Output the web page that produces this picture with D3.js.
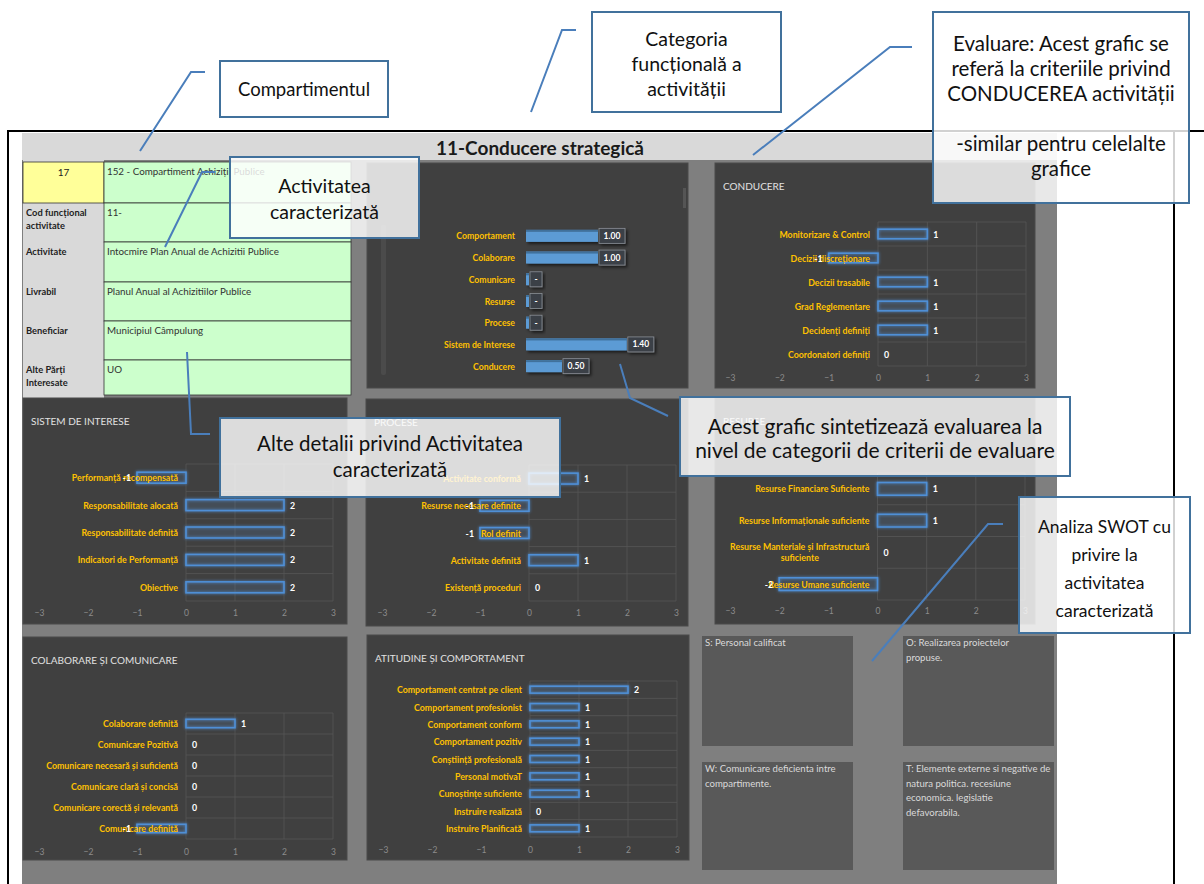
<!DOCTYPE html>
<html lang="ro">
<head>
<meta charset="UTF-8">
<title>11-Conducere strategică</title>
<script src="https://d3js.org/d3.v7.min.js"></script>
<style>
  html, body { margin: 0; padding: 0; background: #fff; }
  svg { display: block; font-family: Lato, 'Open Sans', sans-serif; }
</style>
</head>
<body>
<div id="chart"></div>
<script>
// ---- date ----
const sheetTitle = '11-Conducere strategică';
const infoLabels = ['17', 'Cod funcțional\nactivitate', 'Activitate', 'Livrabil', 'Beneficiar', 'Alte Părți\nInteresate'];
const infoValues = ['152 - Compartiment Achiziții Publice', '11-', 'Intocmire Plan Anual de Achizitii  Publice',
  'Planul Anual al Achizitiilor Publice', 'Municipiul Câmpulung', 'UO'];

const summaryCategories = ['Comportament', 'Colaborare', 'Comunicare', 'Resurse', 'Procese', 'Sistem de Interese', 'Conducere'];
const summaryValues = [1.00, 1.00, 0, 0, 0, 1.40, 0.50];

const conducereCriteria = ['Monitorizare & Control', 'Decizii discreționare', 'Decizii trasabile', 'Grad Reglementare', 'Decidenți definiți', 'Coordonatori  definiți'];
const conducereScores = [1, -1, 1, 1, 1, 0];

const sistemCriteria = ['Performanță recompensată', 'Responsabilitate alocată', 'Responsabilitate definită', 'Indicatori de Performanță', 'Obiective'];
const sistemScores = [-1, 2, 2, 2, 2];

const proceseCriteria = ['Activitate conformă', 'Resurse necesare definite', 'Rol definit', 'Activitate definită', 'Existență proceduri'];
const proceseScores = [1, -1, -1, 1, 0];

const resurseCriteria = ['Resurse Financiare Suficiente', 'Resurse Informaționale  suficiente', 'Resurse Manteriale  și Infrastructură\nsuficiente', 'Resurse Umane suficiente'];
const resurseScores = [1, 1, 0, -2];

const colaborareCriteria = ['Colaborare definită', 'Comunicare Pozitivă', 'Comunicare  necesară  și suficientă', 'Comunicare  clară  și concisă', 'Comunicare corectă  și relevantă', 'Comunicare definită'];
const colaborareScores = [1, 0, 0, 0, 0, -1];

const atitudineCriteria = ['Comportament centrat pe client', 'Comportament profesionist', 'Comportament conform', 'Comportament pozitiv',
  'Conștiință  profesională', 'Personal motivaT', 'Cunoștințe  suficiente', 'Instruire realizată', 'Instruire Planificată'];
const atitudineScores = [2, 1, 1, 1, 1, 1, 1, 0, 1];

const scoreTicks = [-3, -2, -1, 0, 1, 2, 3];

const swotTexts = ['S: Personal calificat', 'O: Realizarea proiectelor\npropuse.',
  'W: Comunicare  deficienta intre\ncompartimente.',
  'T: Elemente externe si negative de\nnatura politica. recesiune\neconomica. legislatie\ndefavorabila.'];

// ---- culori ----
const GOLD = '#ffc000', PANEL = '#404040', BLUE = '#5b9bd5', EDGE = '#41719c';

const W = 1204, H = 884;
const svg = d3.select('#chart').append('svg').attr('width', W).attr('height', H);
const defs = svg.append('defs');

const glow = defs.append('filter').attr('id', 'glow')
  .attr('x', '-20%').attr('y', '-60%').attr('width', '140%').attr('height', '220%');
glow.append('feGaussianBlur').attr('in', 'SourceGraphic').attr('stdDeviation', 1.4).attr('result', 'b');
const gm = glow.append('feMerge');
gm.append('feMergeNode').attr('in', 'b');
gm.append('feMergeNode').attr('in', 'SourceGraphic');

const shadow = defs.append('filter').attr('id', 'shadow')
  .attr('x', '-20%').attr('y', '-40%').attr('width', '150%').attr('height', '200%');
shadow.append('feDropShadow').attr('dx', 2).attr('dy', 2).attr('stdDeviation', 1.5)
  .attr('flood-color', '#000').attr('flood-opacity', 0.6);

function lines(sel, text, x, y, lh, anchor) {
  const parts = text.split('\n');
  const t = sel.append('text').attr('text-anchor', anchor || 'start');
  parts.forEach((p, i) => {
    t.append('tspan').attr('x', x).attr('y', y + i * lh).text(p);
  });
  return t;
}

// ---- fundal ----
svg.append('rect').attr('width', W).attr('height', H).attr('fill', '#fff');
svg.append('rect').attr('x', 22).attr('y', 133).attr('width', 1035).attr('height', 28).attr('fill', '#d9d9d9');
svg.append('rect').attr('x', 22).attr('y', 160).attr('width', 1035).attr('height', H - 160).attr('fill', '#7f7f7f');

svg.append('text')
  .attr('x', 540).attr('y', 147)
  .attr('text-anchor', 'middle').attr('dominant-baseline', 'central')
  .attr('font-size', 19).attr('font-weight', 'bold').attr('fill', '#1a1a1a')
  .text(sheetTitle);

// ---- tabel activitate ----
const rowH = [41, 39, 40, 39, 39, 35];
const tbl = {x: 23, y: 162, lw: 81, vw: 247};
svg.append('rect').attr('x', tbl.x).attr('y', 160).attr('width', tbl.lw).attr('height', 238).attr('fill', '#d9d9d9');
let ry = tbl.y;
infoLabels.forEach((lab, i) => {
  if (i === 0) {
    svg.append('rect').attr('x', tbl.x).attr('y', ry).attr('width', tbl.lw).attr('height', rowH[i])
      .attr('fill', '#ffff99').attr('stroke', '#333').attr('stroke-width', 0.8);
    svg.append('text').attr('x', tbl.x + tbl.lw / 2).attr('y', ry + 10).attr('text-anchor', 'middle')
      .attr('dominant-baseline', 'central').attr('font-size', 10).attr('fill', '#222').text(lab);
  } else {
    lines(svg, lab, tbl.x + 3, ry + 13, 13).attr('font-size', 9.3).attr('font-weight', 'bold').attr('fill', '#222');
  }
  svg.append('rect').attr('x', tbl.x + tbl.lw).attr('y', ry).attr('width', tbl.vw).attr('height', rowH[i])
    .attr('fill', '#ccffcc').attr('stroke', '#333').attr('stroke-width', 0.8);
  svg.append('text').attr('x', tbl.x + tbl.lw + 3).attr('y', ry + 13)
    .attr('font-size', 9.8).attr('fill', '#333').text(infoValues[i]);
  ry += rowH[i];
});

// ---- panouri ----
function panel(r, title) {
  svg.append('rect').attr('x', r.x).attr('y', r.y).attr('width', r.w).attr('height', r.h)
    .attr('fill', PANEL).attr('stroke', '#4a4a4a');
  if (title) {
    svg.append('text').attr('x', r.x + 8).attr('y', r.y + 23).attr('dominant-baseline', 'central')
      .attr('font-size', 10).attr('fill', '#e0e0e0').text(title);
  }
}

// ---- grafic sintetic ----
panel({x: 367, y: 163, w: 321, h: 225});
svg.append('rect').attr('x', 381).attr('y', 225).attr('width', 5).attr('height', 150).attr('rx', 2).attr('fill', '#4b4b4b');
svg.append('rect').attr('x', 683).attr('y', 188).attr('width', 3).attr('height', 20).attr('fill', '#555');

const sx = d3.scaleLinear().domain([0, 2]).range([526, 670]);
const sy = d3.scaleBand().domain(summaryCategories).range([225, 377]);
const sg = svg.append('g');
summaryCategories.forEach((c, i) => {
  const v = summaryValues[i];
  const cy = sy(c) + sy.bandwidth() / 2;
  const w = Math.max(3, sx(v) - sx(0));
  const bar = sg.append('g').attr('filter', 'url(#shadow)');
  bar.append('rect').attr('x', sx(0)).attr('y', cy - 6).attr('width', w).attr('height', 12).attr('fill', BLUE);
  bar.append('rect').attr('x', sx(0)).attr('y', cy - 6).attr('width', w).attr('height', 2).attr('fill', EDGE);
  const lbl = v === 0 ? '-' : d3.format('.2f')(v);
  const bw = v === 0 ? 12 : 26;
  const bx = sx(0) + w + 1;
  sg.append('rect').attr('x', bx).attr('y', cy - 7.5).attr('width', bw).attr('height', 15)
    .attr('fill', '#3a3f46').attr('stroke', '#8a8f96').attr('stroke-width', 0.8).attr('filter', 'url(#shadow)');
  sg.append('text').attr('x', bx + bw / 2).attr('y', cy).attr('text-anchor', 'middle').attr('dominant-baseline', 'central')
    .attr('font-size', 8.5).attr('font-weight', 'bold').attr('fill', '#fff').text(lbl);
  sg.append('text').attr('x', 515).attr('y', cy).attr('text-anchor', 'end').attr('dominant-baseline', 'central')
    .attr('font-size', 8.7).attr('font-weight', 'bold').attr('fill', GOLD).text(c);
});

// ---- grafice pe criterii ----
function scoreChart(L, criteria, scores) {
  panel(L.panel, L.title);
  const x = d3.scaleLinear().domain([-3, 3]).range([L.x0, L.x1]);
  const y = d3.scaleBand().domain(criteria).range([L.top, L.bottom]);
  const g = svg.append('g');
  const grid = g.append('g').attr('stroke', '#575757').attr('stroke-width', 0.8);
  [0, 1, 2, 3].forEach(t => {
    grid.append('line').attr('x1', x(t)).attr('x2', x(t)).attr('y1', L.top).attr('y2', L.bottom);
  });
  criteria.concat([null]).forEach(c => {
    const yy = c === null ? L.bottom : y(c);
    grid.append('line').attr('x1', x(0)).attr('x2', x(3)).attr('y1', yy).attr('y2', yy);
  });

  const bh = y.bandwidth() * 0.4;
  criteria.forEach((c, i) => {
    const v = scores[i];
    const cy = y(c) + y.bandwidth() / 2;
    if (v !== 0) {
      g.append('rect').attr('x', x(Math.min(0, v))).attr('y', cy - bh / 2)
        .attr('width', Math.abs(x(v) - x(0))).attr('height', bh)
        .attr('fill', 'rgba(91,155,213,0.08)').attr('stroke', '#4f8fd6').attr('stroke-width', 1.6)
        .attr('filter', 'url(#glow)');
    }
    const parts = c.split('\n');
    const lt = g.append('text').attr('x', x(0) - 8).attr('y', cy - (parts.length - 1) * 5.5)
      .attr('text-anchor', 'end').attr('dominant-baseline', 'central')
      .attr('font-size', 8.8).attr('font-weight', 'bold').attr('fill', GOLD).text(parts[0]);
    if (parts.length > 1) {
      const w0 = lt.node().getComputedTextLength();
      g.append('text').attr('x', x(0) - 8 - w0 / 2).attr('y', cy + 5.5)
        .attr('text-anchor', 'middle').attr('dominant-baseline', 'central')
        .attr('font-size', 8.8).attr('font-weight', 'bold').attr('fill', GOLD).text(parts[1]);
    }
    g.append('text')
      .attr('x', v < 0 ? x(v) - 6 : x(v) + 6).attr('y', cy)
      .attr('text-anchor', v < 0 ? 'end' : 'start').attr('dominant-baseline', 'central')
      .attr('font-size', 8.8).attr('font-weight', 'bold').attr('fill', '#fff').text(v);
  });

  const ax = g.append('g').attr('transform', `translate(0,${L.tickY})`)
    .call(d3.axisBottom(x).tickValues(scoreTicks).tickFormat(d3.format('d')).tickSize(0).tickPadding(0));
  ax.attr('font-family', null).attr('font-size', null);
  ax.select('.domain').remove();
  ax.selectAll('text').attr('dy', '0.35em').attr('font-size', 8.5).attr('fill', '#8c8c8c');
}

scoreChart({panel: {x: 715, y: 163, w: 320, h: 225}, title: 'CONDUCERE', x0: 730, x1: 1026, top: 222, bottom: 366, tickY: 378},
  conducereCriteria, conducereScores);
scoreChart({panel: {x: 23, y: 398, w: 324, h: 226}, title: 'SISTEM DE INTERESE', x0: 39, x1: 333, top: 464, bottom: 601, tickY: 613},
  sistemCriteria, sistemScores);
scoreChart({panel: {x: 366, y: 399, w: 322, h: 227}, title: 'PROCESE', x0: 382, x1: 676, top: 465, bottom: 601, tickY: 613},
  proceseCriteria, proceseScores);
scoreChart({panel: {x: 715, y: 398, w: 320, h: 226}, title: 'RESURSE', x0: 730, x1: 1025, top: 473, bottom: 600, tickY: 611},
  resurseCriteria, resurseScores);
scoreChart({panel: {x: 23, y: 637, w: 324, h: 223}, title: 'COLABORARE ȘI COMUNICARE', x0: 39, x1: 333, top: 713, bottom: 839, tickY: 852},
  colaborareCriteria, colaborareScores);
scoreChart({panel: {x: 367, y: 635, w: 322, h: 225}, title: 'ATITUDINE ȘI COMPORTAMENT', x0: 383, x1: 677, top: 681, bottom: 837, tickY: 850},
  atitudineCriteria, atitudineScores);

// ---- SWOT ----
const swotBoxes = [{x: 702, y: 636, w: 151, h: 110}, {x: 903, y: 636, w: 151, h: 110},
  {x: 702, y: 762, w: 151, h: 108}, {x: 903, y: 762, w: 151, h: 108}];
swotTexts.forEach((t, i) => {
  const b = swotBoxes[i];
  svg.append('rect').attr('x', b.x).attr('y', b.y).attr('width', b.w).attr('height', b.h).attr('fill', '#595959');
  lines(svg, t, b.x + 3, b.y + 10, 14.5).attr('font-size', 9.6).attr('fill', '#d9d9d9');
});

// ---- chenar ----
const frame = svg.append('g').attr('stroke', '#000').attr('stroke-width', 2);
frame.append('line').attr('x1', 8).attr('x2', W).attr('y1', 131).attr('y2', 131);
frame.append('line').attr('x1', 8).attr('x2', 8).attr('y1', 130).attr('y2', H);
frame.append('line').attr('x1', 1174).attr('x2', 1174).attr('y1', 130).attr('y2', H);

// ---- explicatii ----
const callouts = [
  {box: [220, 61, 168, 56], size: 18.5, lh: 25, text: 'Compartimentul', y0: 89, path: [[205, 72], [191, 72], [140, 151]]},
  {box: [592, 12, 189, 100], size: 19.5, lh: 25, text: 'Categoria\nfuncțională a\nactivității', y0: 38, path: [[576, 30], [562, 30], [531, 112]]},
  {box: [933, 12, 256, 191], size: 20.5, lh: 25, text: 'Evaluare: Acest grafic se\nreferă la criteriile privind\nCONDUCEREA activității\n\n-similar pentru celelalte\ngrafice', y0: 43, path: [[912, 47], [890, 47], [753, 155]]},
  {box: [230, 157, 189, 81], size: 19.5, lh: 26, text: 'Activitatea\ncaracterizată', y0: 185, path: [[215, 172], [202, 172], [165, 247]]},
  {box: [220, 418, 340, 79], size: 20.5, lh: 26, text: 'Alte detalii privind Activitatea\ncaracterizată', y0: 443, path: [[187, 352], [191, 434], [210, 434]]},
  {box: [680, 397, 390, 79], size: 21, lh: 24, text: 'Acest grafic sintetizează evaluarea la\nnivel de categorii de criterii de evaluare', y0: 425, path: [[620, 364], [630, 398], [668, 416]]},
  {box: [1019, 497, 171, 136], size: 17.5, lh: 28, text: 'Analiza SWOT cu\nprivire la\nactivitatea\ncaracterizată', y0: 526, path: [[1003, 524], [988, 524], [872, 661]]}
];
const cg = svg.append('g');
callouts.forEach(c => {
  const [bx, by, bw, bh] = c.box;
  cg.append('rect').attr('x', bx).attr('y', by).attr('width', bw).attr('height', bh)
    .attr('fill', '#fff').attr('fill-opacity', 0.82).attr('stroke', EDGE).attr('stroke-width', 2);
  c.text.split('\n').forEach((p, i) => {
    cg.append('text').attr('x', bx + bw / 2).attr('y', c.y0 + i * c.lh)
      .attr('text-anchor', 'middle').attr('dominant-baseline', 'central')
      .attr('font-size', c.size).attr('fill', '#111').text(p);
  });
  cg.append('path').attr('d', d3.line()(c.path)).attr('fill', 'none')
    .attr('stroke', '#4a7ebb').attr('stroke-width', 2);
});
</script>
</body>
</html>
